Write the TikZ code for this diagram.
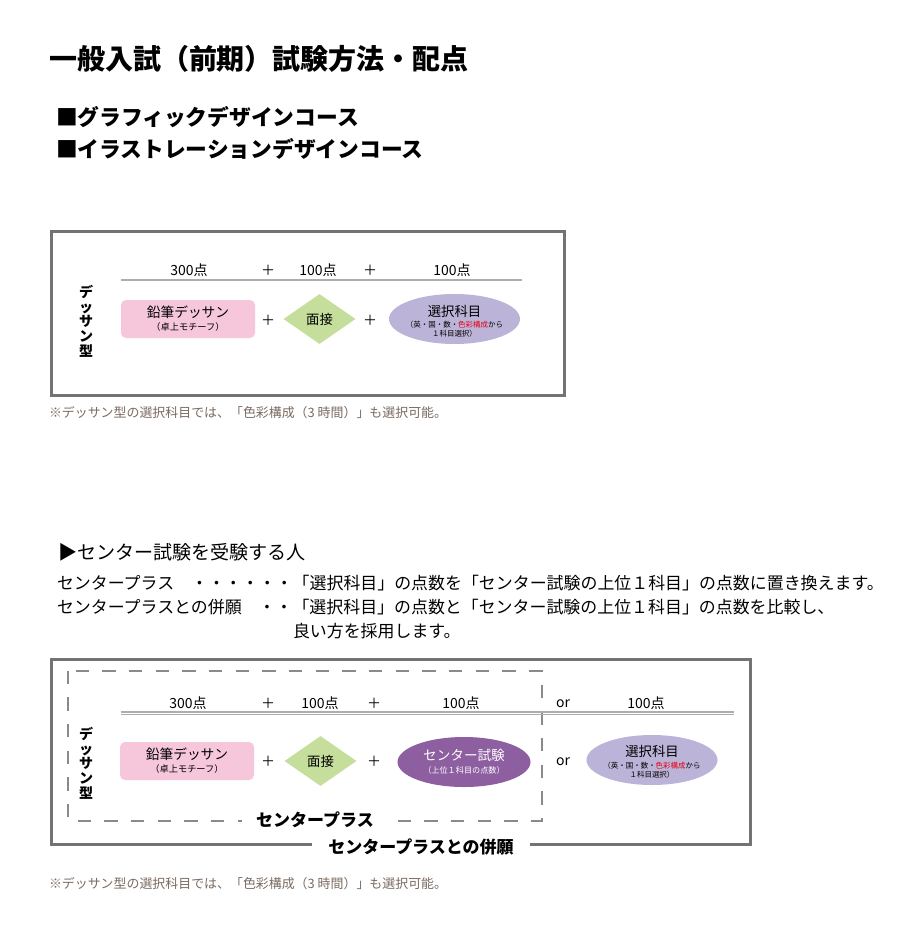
\documentclass[tikz,border=0pt]{standalone}
\usepackage{fontspec}
\setmainfont{Noto Sans CJK JP}
\usetikzlibrary{shapes.geometric}
\definecolor{framec}{HTML}{737373}
\definecolor{rulec}{HTML}{ADADAD}
\definecolor{pinkf}{HTML}{F6C7DB}
\definecolor{greenf}{HTML}{C5DE9B}
\definecolor{lavf}{HTML}{BCB4D8}
\definecolor{purpf}{HTML}{8D5EA0}
\definecolor{redt}{HTML}{E60012}
\definecolor{notec}{HTML}{7B6B60}
\definecolor{dashc}{HTML}{8A8A8A}
\newcommand{\fs}[1]{\fontsize{#1pt}{#1pt}\selectfont}
\tikzset{
  txt/.style={inner sep=0pt, outer sep=0pt},
  lft/.style={txt, anchor=west},
  framebox/.style={draw=framec, line width=2.25pt},
  pinkbox/.style={fill=pinkf, rounded corners=3.75pt, minimum width=100.5pt, minimum height=28.5pt, inner sep=0pt},
  greendia/.style={diamond, fill=greenf, minimum width=54pt, minimum height=37.5pt, inner sep=0pt},
  lavell/.style={ellipse, fill=lavf, minimum width=98.25pt, minimum height=37.5pt, inner sep=0pt},
  purpell/.style={ellipse, fill=purpf, minimum width=99.75pt, minimum height=37.5pt, inner sep=0pt},
  score/.style={txt, font=\fs{10.5}},
  vlabel/.style={txt, align=center, font=\bfseries\fontsize{10.5pt}{11pt}\selectfont},
  note/.style={lft, text=notec, font=\fs{9.7}},
  body/.style={lft, font=\fs{12.7}},
  gapbold/.style={txt, fill=white, font=\bfseries\fs{12.75}},
  rulel/.style={draw=rulec, line width=0.8pt},
}
\begin{document}
\begin{tikzpicture}[x=0.75pt, y=-0.75pt]
\useasboundingbox (0,0) rectangle (900,928);
\fill[white] (0,0) rectangle (900,928);

% headings
\node[lft, font=\bfseries\fs{21}] (title) at (49,59) {一般入試（前期）試験方法・配点};
\node[lft, font=\bfseries\fs{16.3}] (sub1) at (56,117) {■グラフィックデザインコース};
\node[lft, font=\bfseries\fs{16.3}] (sub2) at (56,149) {■イラストレーションデザインコース};

% ---------- box 1 ----------
\draw[framebox] (51.5,231.5) rectangle (564,395);
\coordinate (r1a) at (121,280);
\coordinate (r1b) at (522,280);
\draw[draw=rulec, line width=1.5pt] (r1a) -- (r1b);
\node[score] (s1a) at (189,270) {300点};
\node[score] (p1a) at (268,270) {＋};
\node[score] (s1b) at (318,270) {100点};
\node[score] (p1b) at (370,270) {＋};
\node[score] (s1c) at (452,270) {100点};

\node[vlabel] (v1) at (86,321) {デ\\ッ\\サ\\ン\\型};

\node[pinkbox] (pk1) at (188,319) {};
\node[txt, font=\fs{10.3}] (pk1t) at (188,312) {鉛筆デッサン};
\node[txt, font=\fs{6.9}] (pk1s) at (188,327) {（卓上モチーフ）};
\node[score] (q1a) at (268,320) {＋};
\node[greendia] (dm1) at (319.5,319) {};
\node[txt, font=\fs{10}] (dm1t) at (dm1) {面接};
\node[score] (q1b) at (370,320) {＋};
\node[lavell] (el1) at (454.5,319) {};
\node[txt, font=\fs{10}] (el1t) at (454.5,311) {選択科目};
\node[txt, font=\fs{5.6}] (el1s) at (454.5,325) {（英・国・数・\textcolor{redt}{色彩構成}から};
\node[txt, font=\fs{5.6}] (el1u) at (454.5,334) {１科目選択）};

\node[note] (n1) at (49,413) {※デッサン型の選択科目では、「色彩構成（3 時間）」も選択可能。};

% ---------- section 2 text ----------
\node[lft, font=\fs{14.3}] (sec2) at (58,552) {▶センター試験を受験する人};
\node[body] (l1) at (57,583) {センタープラス　・・・・・・「選択科目」の点数を「センター試験の上位１科目」の点数に置き換えます。};
\node[body] (l2) at (57,607) {センタープラスとの併願　・・「選択科目」の点数と「センター試験の上位１科目」の点数を比較し、};
\node[body] (l3) at (293,631) {良い方を採用します。};

% ---------- box 2 ----------
\draw[framebox] (51.5,659.5) rectangle (750.5,844.5);
\draw[draw=dashc, line width=1.5pt, dash pattern=on 10pt off 10pt] (67.5,670.5) rectangle (541.5,820.5);
\coordinate (r2a) at (121,712);
\coordinate (r2b) at (734,712);
\coordinate (r2c) at (121,714.8);
\coordinate (r2d) at (734,714.8);
\draw[rulel] (r2a) -- (r2b);
\draw[rulel] (r2c) -- (r2d);

\node[score] (s2a) at (188,703) {300点};
\node[score] (p2a) at (268,703) {＋};
\node[score] (s2b) at (320,703) {100点};
\node[score] (p2b) at (374,703) {＋};
\node[score] (s2c) at (461,703) {100点};
\node[score] (o2a) at (563,704) {or};
\node[score] (s2d) at (646,703) {100点};

\node[vlabel] (v2) at (86,763) {デ\\ッ\\サ\\ン\\型};

\node[pinkbox] (pk2) at (187,761) {};
\node[txt, font=\fs{10.3}] (pk2t) at (187,754) {鉛筆デッサン};
\node[txt, font=\fs{6.9}] (pk2s) at (187,769) {（卓上モチーフ）};
\node[score] (q2a) at (268,761) {＋};
\node[greendia] (dm2) at (320.5,761) {};
\node[txt, font=\fs{10}] (dm2t) at (dm2) {面接};
\node[score] (q2b) at (374,761) {＋};
\node[purpell] (el2) at (464,762) {};
\node[txt, text=white, font=\fs{10.2}] (el2t) at (464,755) {センター試験};
\node[txt, text=white, font=\fs{6.1}] (el2s) at (464,770) {（上位１科目の点数）};
\node[score] (o2b) at (563,762) {or};
\node[lavell] (el3) at (652,760) {};
\node[txt, font=\fs{10}] (el3t) at (652,751) {選択科目};
\node[txt, font=\fs{5.6}] (el3s) at (652,766) {（英・国・数・\textcolor{redt}{色彩構成}から};
\node[txt, font=\fs{5.6}] (el3u) at (652,775) {１科目選択）};

\node[gapbold, inner xsep=11pt, inner ysep=1.5pt] (cp) at (315,820) {センタープラス};
\node[gapbold, inner xsep=12.5pt, inner ysep=1.5pt] (cph) at (421,847) {センタープラスとの併願};

\node[note] (n2) at (49,884) {※デッサン型の選択科目では、「色彩構成（3 時間）」も選択可能。};
\end{tikzpicture}
\end{document}
